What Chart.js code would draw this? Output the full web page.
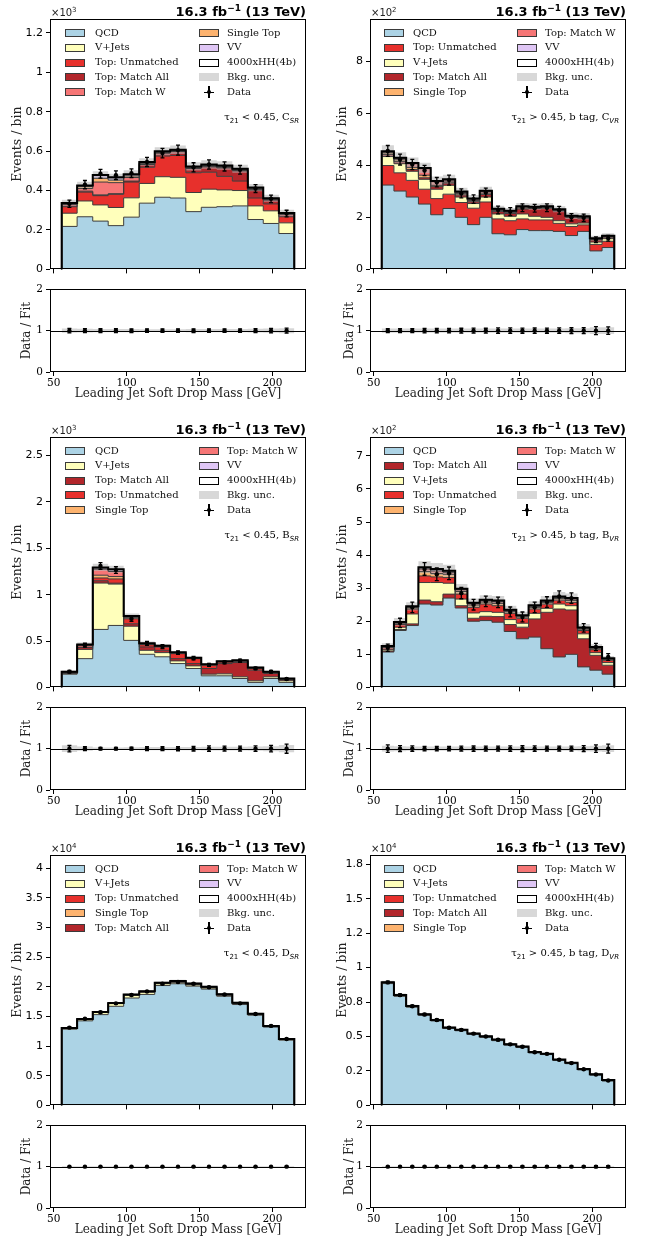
<!DOCTYPE html>
<html>
<head>
<meta charset="utf-8">
<title>Leading jet soft drop mass</title>
<script src="https://cdn.jsdelivr.net/npm/chart.js@4.4.1/dist/chart.umd.min.js"></script>
<style>
  html, body { margin: 0; padding: 0; background: #fff; }
  body { position: relative; width: 649px; height: 1245px; overflow: hidden; font-family: "DejaVu Serif", serif; }
  canvas { position: absolute; }
  .txt { position: absolute; white-space: nowrap; color: #000; }
  .lumi { font-family: "DejaVu Sans", sans-serif; font-weight: bold; font-size: 13px; line-height: 13px; }
  .lumi sup { font-size: 9px; vertical-align: 0; position: relative; top: -5px; }
  .mult { font-family: "DejaVu Sans", sans-serif; font-size: 10px; line-height: 10px; color: #222; }
  .mult sup { font-size: 7px; vertical-align: 0; position: relative; top: -4px; }
  .leg { font-size: 10px; line-height: 12px; color: #111; }
  .box { position: absolute; box-sizing: border-box; width: 20px; height: 8px; border: 1px solid #3a3a3a; }
  .note { font-size: 10px; line-height: 12px; }
  .note sub { font-family: "DejaVu Sans", sans-serif; font-size: 7px; vertical-align: 0; position: relative; top: 3px; }
  .bar { position: absolute; background: #000; }
</style>
</head>
<body>
<script>
// bin edges of the soft drop mass [GeV]
const leftEdges = [55.5, 66.1, 76.8, 87.4, 98.0, 108.7, 119.3, 129.9, 140.6, 151.2, 161.8, 172.5, 183.1, 193.7, 204.4, 215.0];
const rightEdges = [55.5, 63.9, 72.3, 80.7, 89.1, 97.5, 105.9, 114.3, 122.7, 131.1, 139.5, 147.8, 156.2, 164.6, 173.0, 181.4, 189.8, 198.2, 206.6, 215.0];
const massTicks = [50, 100, 150, 200];
const ratioTicks = [0, 1, 2];
const ratioTickLabels = ['0', '1', '2'];

// C_SR, x10^3 events
const cSR_qcd = [0.218, 0.267, 0.245, 0.222, 0.265, 0.336, 0.366, 0.362, 0.293, 0.315, 0.318, 0.322, 0.253, 0.233, 0.182];
const cSR_vjets = [0.067, 0.080, 0.082, 0.092, 0.098, 0.100, 0.104, 0.105, 0.097, 0.092, 0.085, 0.078, 0.069, 0.064, 0.054];
const cSR_topUnm = [0.033, 0.045, 0.047, 0.067, 0.080, 0.082, 0.105, 0.111, 0.100, 0.086, 0.069, 0.048, 0.040, 0.035, 0.031];
const cSR_topAll = [0.012, 0.005, 0.004, 0.003, 0.005, 0.014, 0.015, 0.020, 0.022, 0.027, 0.043, 0.052, 0.041, 0.020, 0.013];
const cSR_topW = [0.001, 0.013, 0.065, 0.056, 0.018, 0.004, 0.002, 0.002, 0.002, 0.003, 0.003, 0.002, 0.003, 0.002, 0.001];
const cSR_singleTop = [0.003, 0.010, 0.019, 0.013, 0.008, 0.004, 0.003, 0.003, 0.004, 0.004, 0.004, 0.003, 0.004, 0.003, 0.002];
const cSR_vv = [0.002, 0.005, 0.015, 0.012, 0.007, 0.003, 0.002, 0.002, 0.002, 0.003, 0.003, 0.003, 0.003, 0.003, 0.002];
const cSR_hh = [0.001, 0.001, 0.002, 0.002, 0.002, 0.002, 0.002, 0.002, 0.002, 0.002, 0.002, 0.002, 0.002, 0.001, 0.001];
const cSR_data = [0.333, 0.430, 0.485, 0.478, 0.488, 0.545, 0.590, 0.605, 0.518, 0.532, 0.522, 0.505, 0.410, 0.358, 0.283];
const cSR_err = [0.018, 0.021, 0.022, 0.022, 0.022, 0.023, 0.024, 0.025, 0.023, 0.023, 0.023, 0.022, 0.020, 0.019, 0.017];
const cSR_unc = [0.05, 0.045, 0.04, 0.04, 0.04, 0.035, 0.035, 0.035, 0.04, 0.04, 0.04, 0.04, 0.045, 0.05, 0.06];
const cSR_ratio = [1, 1, 1, 1, 1, 1, 1, 1, 1, 1, 1, 1, 1, 1, 1];
const cSR_ticks = [0, 0.2, 0.4, 0.6, 0.8, 1.0, 1.2];
const cSR_tickLabels = ['0', '0.2', '0.4', '0.6', '0.8', '1', '1.2'];

// C_VR, x10^2 events
const cVR_qcd = [3.24, 3.01, 2.78, 2.51, 2.10, 2.34, 2.00, 1.72, 2.00, 1.37, 1.33, 1.53, 1.49, 1.49, 1.46, 1.30, 1.46, 0.71, 0.84];
const cVR_topUnm = [0.75, 0.70, 0.64, 0.57, 0.62, 0.55, 0.57, 0.63, 0.59, 0.57, 0.54, 0.41, 0.41, 0.41, 0.31, 0.35, 0.25, 0.25, 0.24];
const cVR_vjets = [0.35, 0.35, 0.35, 0.38, 0.36, 0.34, 0.21, 0.18, 0.19, 0.19, 0.17, 0.19, 0.14, 0.10, 0.10, 0.10, 0.07, 0.09, 0.10];
const cVR_topAll = [0.08, 0.08, 0.07, 0.06, 0.10, 0.09, 0.08, 0.07, 0.10, 0.09, 0.11, 0.19, 0.30, 0.35, 0.38, 0.25, 0.19, 0.09, 0.06];
const cVR_singleTop = [0.06, 0.07, 0.08, 0.10, 0.05, 0.04, 0.05, 0.05, 0.05, 0.04, 0.03, 0.04, 0.03, 0.03, 0.02, 0.02, 0.03, 0.02, 0.02];
const cVR_topW = [0.03, 0.06, 0.14, 0.25, 0.14, 0.07, 0.05, 0.05, 0.06, 0.04, 0.04, 0.04, 0.02, 0.03, 0.02, 0.02, 0.02, 0.02, 0.01];
const cVR_vv = [0.02, 0.01, 0.02, 0.02, 0.02, 0.02, 0.02, 0.01, 0.02, 0.02, 0.02, 0.02, 0.01, 0.01, 0.01, 0.01, 0.01, 0.01, 0.01];
const cVR_hh = [0.01, 0.01, 0.01, 0.01, 0.01, 0.01, 0.01, 0.01, 0.01, 0.01, 0.01, 0.01, 0.01, 0.01, 0.01, 0.01, 0.01, 0.01, 0.01];
const cVR_data = [4.55, 4.22, 4.03, 3.80, 3.35, 3.43, 2.92, 2.70, 2.95, 2.28, 2.22, 2.37, 2.35, 2.37, 2.27, 2.00, 1.98, 1.14, 1.20];
const cVR_err = [0.21, 0.21, 0.20, 0.20, 0.18, 0.19, 0.17, 0.16, 0.17, 0.15, 0.15, 0.15, 0.15, 0.15, 0.15, 0.14, 0.14, 0.11, 0.11];
const cVR_unc = [0.05, 0.05, 0.05, 0.05, 0.05, 0.05, 0.05, 0.05, 0.05, 0.05, 0.05, 0.05, 0.05, 0.05, 0.05, 0.06, 0.06, 0.08, 0.08];
const cVR_ratio = [1, 1, 1, 1, 1, 1, 1, 1, 1, 1, 1, 1, 1, 1, 1, 1, 1, 1, 1];
const cVR_ticks = [0, 2, 4, 6, 8];
const cVR_tickLabels = ['0', '2', '4', '6', '8'];

// B_SR, x10^3 events
const bSR_qcd = [0.143, 0.310, 0.625, 0.668, 0.507, 0.357, 0.330, 0.257, 0.204, 0.125, 0.125, 0.096, 0.054, 0.096, 0.054];
const bSR_vjets = [0.005, 0.100, 0.500, 0.446, 0.153, 0.043, 0.045, 0.029, 0.028, 0.018, 0.021, 0.018, 0.017, 0.018, 0.018];
const bSR_topAll = [0.006, 0.020, 0.025, 0.010, 0.026, 0.036, 0.025, 0.024, 0.025, 0.061, 0.111, 0.154, 0.115, 0.036, 0.012];
const bSR_topUnm = [0.008, 0.020, 0.030, 0.046, 0.054, 0.024, 0.036, 0.054, 0.053, 0.036, 0.018, 0.014, 0.018, 0.014, 0.005];
const bSR_singleTop = [0.002, 0.004, 0.030, 0.025, 0.012, 0.006, 0.004, 0.004, 0.003, 0.003, 0.002, 0.004, 0.003, 0.002, 0.002];
const bSR_topW = [0.002, 0.004, 0.065, 0.055, 0.010, 0.005, 0.004, 0.005, 0.003, 0.003, 0.002, 0.002, 0.003, 0.002, 0.002];
const bSR_vv = [0.001, 0.002, 0.015, 0.020, 0.005, 0.003, 0.003, 0.003, 0.002, 0.002, 0.002, 0.002, 0.002, 0.001, 0.001];
const bSR_hh = [0.001, 0.002, 0.004, 0.004, 0.003, 0.002, 0.002, 0.002, 0.002, 0.002, 0.002, 0.002, 0.002, 0.001, 0.001];
const bSR_data = [0.170, 0.455, 1.310, 1.265, 0.740, 0.475, 0.440, 0.375, 0.315, 0.243, 0.270, 0.288, 0.205, 0.170, 0.090];
const bSR_err = [0.013, 0.021, 0.036, 0.036, 0.027, 0.022, 0.021, 0.019, 0.018, 0.016, 0.016, 0.017, 0.014, 0.013, 0.010];
const bSR_unc = [0.08, 0.05, 0.03, 0.03, 0.035, 0.04, 0.04, 0.04, 0.04, 0.045, 0.045, 0.045, 0.05, 0.06, 0.09];
const bSR_ratio = [1, 1, 1, 1, 1, 1, 1, 1, 1, 1, 1, 1, 1, 1, 1];
const bSR_ticks = [0, 0.5, 1.0, 1.5, 2.0, 2.5];
const bSR_tickLabels = ['0', '0.5', '1', '1.5', '2', '2.5'];

// B_VR, x10^2 events
const bVR_qcd = [1.07, 1.72, 1.87, 2.52, 2.49, 2.70, 2.40, 2.00, 2.02, 1.97, 1.69, 1.47, 1.52, 1.17, 0.92, 1.00, 0.62, 0.52, 0.40];
const bVR_topAll = [0.03, 0.03, 0.05, 0.12, 0.10, 0.12, 0.07, 0.09, 0.13, 0.17, 0.21, 0.35, 0.55, 1.10, 1.45, 1.34, 0.85, 0.45, 0.27];
const bVR_vjets = [0.04, 0.07, 0.30, 0.53, 0.58, 0.33, 0.20, 0.16, 0.14, 0.13, 0.15, 0.12, 0.17, 0.12, 0.15, 0.13, 0.15, 0.08, 0.08];
const bVR_topUnm = [0.06, 0.08, 0.15, 0.20, 0.17, 0.17, 0.15, 0.17, 0.23, 0.20, 0.19, 0.15, 0.13, 0.13, 0.12, 0.10, 0.10, 0.09, 0.07];
const bVR_singleTop = [0.02, 0.04, 0.04, 0.13, 0.10, 0.10, 0.08, 0.07, 0.06, 0.07, 0.05, 0.04, 0.05, 0.05, 0.05, 0.06, 0.04, 0.04, 0.03];
const bVR_topW = [0.01, 0.02, 0.02, 0.08, 0.08, 0.06, 0.05, 0.04, 0.04, 0.05, 0.04, 0.03, 0.03, 0.03, 0.03, 0.04, 0.03, 0.02, 0.01];
const bVR_vv = [0.01, 0.01, 0.01, 0.04, 0.05, 0.04, 0.02, 0.02, 0.02, 0.03, 0.01, 0.01, 0.02, 0.02, 0.02, 0.02, 0.01, 0.01, 0.01];
const bVR_hh = [0.01, 0.01, 0.01, 0.01, 0.01, 0.01, 0.01, 0.01, 0.01, 0.01, 0.01, 0.01, 0.01, 0.01, 0.01, 0.01, 0.01, 0.01, 0.01];
const bVR_data = [1.20, 1.95, 2.42, 3.58, 3.42, 3.45, 2.85, 2.50, 2.60, 2.57, 2.28, 2.13, 2.42, 2.58, 2.75, 2.70, 1.80, 1.22, 0.92];
const bVR_err = [0.11, 0.14, 0.16, 0.19, 0.19, 0.19, 0.17, 0.16, 0.16, 0.16, 0.15, 0.15, 0.16, 0.16, 0.17, 0.16, 0.13, 0.11, 0.10];
const bVR_unc = [0.07, 0.06, 0.05, 0.05, 0.05, 0.05, 0.05, 0.05, 0.05, 0.05, 0.05, 0.05, 0.05, 0.05, 0.05, 0.05, 0.06, 0.07, 0.08];
const bVR_ratio = [1, 1, 1, 1, 1, 1, 1, 1, 1, 1, 1, 1, 1, 1, 1, 1, 1, 1, 1];
const bVR_ticks = [0, 1, 2, 3, 4, 5, 6, 7];
const bVR_tickLabels = ['0', '1', '2', '3', '4', '5', '6', '7'];

// D_SR, x10^4 events
const dSR_qcd = [1.285, 1.425, 1.530, 1.670, 1.810, 1.870, 2.020, 2.050, 2.010, 1.960, 1.840, 1.700, 1.520, 1.320, 1.100];
const dSR_vjets = [0.012, 0.022, 0.035, 0.045, 0.045, 0.038, 0.030, 0.025, 0.022, 0.020, 0.018, 0.018, 0.015, 0.012, 0.010];
const dSR_topUnm = [0.002, 0.003, 0.004, 0.005, 0.006, 0.006, 0.006, 0.006, 0.006, 0.005, 0.005, 0.004, 0.004, 0.003, 0.002];
const dSR_singleTop = [0.001, 0.001, 0.001, 0.002, 0.002, 0.002, 0.002, 0.002, 0.002, 0.002, 0.002, 0.002, 0.001, 0.001, 0.001];
const dSR_topAll = [0.001, 0.001, 0.001, 0.001, 0.002, 0.003, 0.005, 0.008, 0.010, 0.007, 0.005, 0.003, 0.002, 0.001, 0.001];
const dSR_topW = [0.001, 0.001, 0.002, 0.002, 0.002, 0.002, 0.002, 0.002, 0.002, 0.002, 0.002, 0.001, 0.001, 0.001, 0.001];
const dSR_vv = [0.001, 0.001, 0.001, 0.001, 0.001, 0.001, 0.001, 0.001, 0.001, 0.001, 0.001, 0.001, 0.001, 0.001, 0.001];
const dSR_hh = [0.001, 0.001, 0.001, 0.001, 0.001, 0.001, 0.001, 0.001, 0.001, 0.001, 0.001, 0.001, 0.001, 0.001, 0.001];
const dSR_data = [1.31, 1.46, 1.57, 1.72, 1.86, 1.92, 2.05, 2.08, 2.05, 1.99, 1.87, 1.72, 1.54, 1.34, 1.12];
const dSR_err = [0.011, 0.012, 0.013, 0.013, 0.014, 0.014, 0.014, 0.014, 0.014, 0.014, 0.014, 0.013, 0.012, 0.012, 0.011];
const dSR_unc = [0.01, 0.01, 0.01, 0.01, 0.01, 0.01, 0.01, 0.01, 0.01, 0.01, 0.01, 0.01, 0.01, 0.01, 0.01];
const dSR_ratio = [1, 1, 1, 1, 1, 1, 1, 1, 1, 1, 1, 1, 1, 1, 1];
const dSR_ticks = [0, 0.5, 1.0, 1.5, 2.0, 2.5, 3.0, 3.5, 4.0];
const dSR_tickLabels = ['0', '0.5', '1', '1.5', '2', '2.5', '3', '3.5', '4'];

// D_VR, x10^4 events
const dVR_qcd = [0.884, 0.792, 0.713, 0.654, 0.613, 0.558, 0.542, 0.515, 0.494, 0.470, 0.438, 0.421, 0.381, 0.369, 0.327, 0.303, 0.258, 0.220, 0.178];
const dVR_vjets = [0.004, 0.004, 0.004, 0.003, 0.003, 0.003, 0.003, 0.003, 0.003, 0.003, 0.002, 0.002, 0.002, 0.002, 0.002, 0.002, 0.002, 0.002, 0.001];
const dVR_topUnm = [0.002, 0.002, 0.001, 0.001, 0.001, 0.001, 0.001, 0.001, 0.001, 0.001, 0.001, 0.001, 0.001, 0.001, 0.001, 0.001, 0.001, 0.001, 0.001];
const dVR_topAll = [0.001, 0.001, 0.001, 0.001, 0.001, 0.001, 0.001, 0.001, 0.001, 0.001, 0.001, 0.001, 0.001, 0.001, 0.001, 0.001, 0.001, 0.001, 0.001];
const dVR_singleTop = [0.001, 0.001, 0.001, 0.001, 0.001, 0.001, 0.001, 0.001, 0.001, 0.001, 0.001, 0.001, 0.001, 0.001, 0.001, 0.001, 0.001, 0.001, 0.001];
const dVR_topW = [0.0005, 0.0005, 0.0005, 0.0005, 0.0005, 0.0005, 0.0005, 0.0005, 0.0005, 0.0005, 0.0005, 0.0005, 0.0005, 0.0005, 0.0005, 0.0005, 0.0005, 0.0005, 0.0005];
const dVR_vv = [0.0005, 0.0005, 0.0005, 0.0005, 0.0005, 0.0005, 0.0005, 0.0005, 0.0005, 0.0005, 0.0005, 0.0005, 0.0005, 0.0005, 0.0005, 0.0005, 0.0005, 0.0005, 0.0005];
const dVR_hh = [0.0005, 0.0005, 0.0005, 0.0005, 0.0005, 0.0005, 0.0005, 0.0005, 0.0005, 0.0005, 0.0005, 0.0005, 0.0005, 0.0005, 0.0005, 0.0005, 0.0005, 0.0005, 0.0005];
const dVR_data = [0.893, 0.800, 0.720, 0.660, 0.620, 0.564, 0.548, 0.521, 0.500, 0.476, 0.443, 0.426, 0.386, 0.374, 0.331, 0.307, 0.262, 0.224, 0.181];
const dVR_err = [0.009, 0.009, 0.008, 0.008, 0.008, 0.008, 0.007, 0.007, 0.007, 0.007, 0.007, 0.007, 0.006, 0.006, 0.006, 0.006, 0.005, 0.005, 0.004];
const dVR_unc = [0.012, 0.012, 0.012, 0.012, 0.012, 0.012, 0.012, 0.012, 0.012, 0.012, 0.012, 0.012, 0.012, 0.012, 0.012, 0.012, 0.012, 0.012, 0.012];
const dVR_ratio = [1, 1, 1, 1, 1, 1, 1, 1, 1, 1, 1, 1, 1, 1, 1, 1, 1, 1, 1];
const dVR_ticks = [0, 0.25, 0.5, 0.75, 1.0, 1.25, 1.5, 1.75];
const dVR_tickLabels = ['0', '0.2', '0.5', '0.8', '1', '1.2', '1.5', '1.8'];

const fills = {
    qcd: '#acd3e5', vjets: '#ffffbb', topUnm: '#e7302c', topAll: '#b2262b',
    topW: '#f67676', singleTop: '#fdb36f', vv: '#dfc6f5', hh: '#ffffff'
};
const names = {
    qcd: 'QCD', vjets: 'V+Jets', topUnm: 'Top: Unmatched', topAll: 'Top: Match All',
    topW: 'Top: Match W', singleTop: 'Single Top', vv: 'VV', hh: '4000xHH(4b)'
};

// page geometry
const X_MIN = 47.5, X_MAX = 223;
const rowTops = [19, 437, 855];
const MAIN_H = 254, RATIO_OFF = 269, RATIO_H = 84;
const cols = [
    { x: 0, w: 325, left: 50, right: 306, yPad: 10.5, rPad: 19.8, leg: [15, 45, 149, 177] },
    { x: 325, w: 324, left: 370, right: 626, yPad: 10.5, rPad: 17.5, leg: [14, 43, 147, 175] }
];

const panels = [
    { row: 0, col: 0, edges: leftEdges, exp: '3', yMax: 1.27, yTicks: cSR_ticks, yLabels: cSR_tickLabels,
      note: 'τ<sub>21</sub> &lt; 0.45, C<sub><i>SR</i></sub>',
      data: cSR_data, err: cSR_err, unc: cSR_unc, ratio: cSR_ratio,
      stack: [['qcd', cSR_qcd], ['vjets', cSR_vjets], ['topUnm', cSR_topUnm], ['topAll', cSR_topAll],
              ['topW', cSR_topW], ['singleTop', cSR_singleTop], ['vv', cSR_vv], ['hh', cSR_hh]] },
    { row: 0, col: 1, edges: rightEdges, exp: '2', yMax: 9.62, yTicks: cVR_ticks, yLabels: cVR_tickLabels,
      note: 'τ<sub>21</sub> &gt; 0.45, b tag, C<sub><i>VR</i></sub>',
      data: cVR_data, err: cVR_err, unc: cVR_unc, ratio: cVR_ratio,
      stack: [['qcd', cVR_qcd], ['topUnm', cVR_topUnm], ['vjets', cVR_vjets], ['topAll', cVR_topAll],
              ['singleTop', cVR_singleTop], ['topW', cVR_topW], ['vv', cVR_vv], ['hh', cVR_hh]] },
    { row: 1, col: 0, edges: leftEdges, exp: '3', yMax: 2.70, yTicks: bSR_ticks, yLabels: bSR_tickLabels,
      note: 'τ<sub>21</sub> &lt; 0.45, B<sub><i>SR</i></sub>',
      data: bSR_data, err: bSR_err, unc: bSR_unc, ratio: bSR_ratio,
      stack: [['qcd', bSR_qcd], ['vjets', bSR_vjets], ['topAll', bSR_topAll], ['topUnm', bSR_topUnm],
              ['singleTop', bSR_singleTop], ['topW', bSR_topW], ['vv', bSR_vv], ['hh', bSR_hh]] },
    { row: 1, col: 1, edges: rightEdges, exp: '2', yMax: 7.57, yTicks: bVR_ticks, yLabels: bVR_tickLabels,
      note: 'τ<sub>21</sub> &gt; 0.45, b tag, B<sub><i>VR</i></sub>',
      data: bVR_data, err: bVR_err, unc: bVR_unc, ratio: bVR_ratio,
      stack: [['qcd', bVR_qcd], ['topAll', bVR_topAll], ['vjets', bVR_vjets], ['topUnm', bVR_topUnm],
              ['singleTop', bVR_singleTop], ['topW', bVR_topW], ['vv', bVR_vv], ['hh', bVR_hh]] },
    { row: 2, col: 0, edges: leftEdges, exp: '4', yMax: 4.22, yTicks: dSR_ticks, yLabels: dSR_tickLabels,
      note: 'τ<sub>21</sub> &lt; 0.45, D<sub><i>SR</i></sub>',
      data: dSR_data, err: dSR_err, unc: dSR_unc, ratio: dSR_ratio,
      stack: [['qcd', dSR_qcd], ['vjets', dSR_vjets], ['topUnm', dSR_topUnm], ['singleTop', dSR_singleTop],
              ['topAll', dSR_topAll], ['topW', dSR_topW], ['vv', dSR_vv], ['hh', dSR_hh]] },
    { row: 2, col: 1, edges: rightEdges, exp: '4', yMax: 1.817, yTicks: dVR_ticks, yLabels: dVR_tickLabels,
      note: 'τ<sub>21</sub> &gt; 0.45, b tag, D<sub><i>VR</i></sub>',
      data: dVR_data, err: dVR_err, unc: dVR_unc, ratio: dVR_ratio,
      stack: [['qcd', dVR_qcd], ['vjets', dVR_vjets], ['topUnm', dVR_topUnm], ['topAll', dVR_topAll],
              ['singleTop', dVR_singleTop], ['topW', dVR_topW], ['vv', dVR_vv], ['hh', dVR_hh]] }
];

Chart.defaults.font.family = 'DejaVu Sans';
Chart.defaults.color = '#000';

// step outline of a histogram; closed adds the drops to zero at both ends
function stepLine(edges, tops, closed) {
    const pts = tops.map((t, i) => ({ x: edges[i], y: t }));
    pts.push({ x: edges[edges.length - 1], y: tops[tops.length - 1] });
    if (closed) {
        pts.unshift({ x: edges[0], y: 0 });
        pts.push({ x: edges[edges.length - 1], y: 0 });
    }
    return pts;
}

const tickGrid = { display: true, drawOnChartArea: false, drawTicks: true, tickLength: 4, tickColor: '#000', color: '#000', lineWidth: 1 };

const framePlugin = {
    id: 'frame',
    afterDraw(chart) {
        const { ctx, chartArea: a } = chart;
        ctx.save();
        ctx.strokeStyle = '#000';
        ctx.lineWidth = 1;
        ctx.strokeRect(Math.round(a.left) + 0.5, Math.round(a.top) + 0.5,
            Math.round(a.right) - Math.round(a.left) - 1, Math.round(a.bottom) - Math.round(a.top) - 1);
        ctx.restore();
    }
};

function errorBars(centers, vals, errs) {
    return {
        id: 'errbars',
        afterDatasetsDraw(chart) {
            const { ctx, scales: { x, y } } = chart;
            ctx.save();
            ctx.strokeStyle = '#000';
            ctx.lineWidth = 1.3;
            centers.forEach((c, i) => {
                const px = x.getPixelForValue(c);
                const lo = y.getPixelForValue(vals[i] - errs[i]);
                const hi = y.getPixelForValue(vals[i] + errs[i]);
                ctx.beginPath();
                ctx.moveTo(px, lo); ctx.lineTo(px, hi);
                ctx.moveTo(px - 2, lo); ctx.lineTo(px + 2, lo);
                ctx.moveTo(px - 2, hi); ctx.lineTo(px + 2, hi);
                ctx.stroke();
            });
            ctx.restore();
        }
    };
}

function addCanvas(x, y, w, h) {
    const cv = document.createElement('canvas');
    cv.width = w; cv.height = h;
    cv.style.left = x + 'px';
    cv.style.top = y + 'px';
    document.body.appendChild(cv);
    return cv;
}

function addText(cls, html, style) {
    const d = document.createElement('div');
    d.className = 'txt ' + cls;
    d.innerHTML = html;
    Object.assign(d.style, style);
    document.body.appendChild(d);
    return d;
}

function drawMain(p) {
    const col = cols[p.col];
    const top = rowTops[p.row];
    const T = 10, B = 6;
    const cv = addCanvas(col.x, top - T, col.w, T + MAIN_H + B);
    const centers = p.edges.slice(0, -1).map((e, i) => (e + p.edges[i + 1]) / 2);

    let running = p.data.map(() => 0);
    const layers = p.stack.map(([key, vals]) => {
        running = running.map((r, i) => r + vals[i]);
        return { key, tops: running.slice() };
    });
    const total = running;

    const datasets = [
        { data: centers.map((c, i) => ({ x: c, y: p.data[i] })), showLine: false,
          pointRadius: 2.2, pointBackgroundColor: '#000', pointBorderWidth: 0 },
        { data: stepLine(p.edges, total.map((t, i) => t * (1 + p.unc[i]))), stepped: 'before',
          fill: '+1', backgroundColor: 'rgba(185,185,185,0.6)', borderColor: 'transparent', borderWidth: 0 },
        { data: stepLine(p.edges, total.map((t, i) => t * (1 - p.unc[i]))), stepped: 'before',
          fill: false, borderColor: 'transparent', borderWidth: 0 }
    ];
    layers.slice().reverse().forEach((l, k, arr) => {
        datasets.push({
            data: stepLine(p.edges, l.tops, true),
            stepped: 'before',
            fill: k === arr.length - 1 ? 'origin' : '+1',
            backgroundColor: fills[l.key],
            borderColor: l.key === 'hh' ? '#000' : '#3c3c3c',
            borderWidth: l.key === 'hh' ? 2 : 1
        });
    });

    new Chart(cv, {
        type: 'line',
        data: { datasets },
        options: {
            responsive: false, animation: false, events: [], devicePixelRatio: 1,
            layout: { padding: { top: T, right: col.x + col.w - col.right, left: 0, bottom: 0 } },
            elements: { point: { radius: 0 }, line: { tension: 0 } },
            plugins: { legend: { display: false }, tooltip: { enabled: false }, filler: { drawTime: 'beforeDatasetsDraw' } },
            scales: {
                x: {
                    type: 'linear', min: X_MIN, max: X_MAX,
                    afterBuildTicks: s => { s.ticks = massTicks.map(v => ({ value: v })); },
                    afterFit: s => { s.height = B; },
                    ticks: { callback: () => '', autoSkip: false, maxRotation: 0 },
                    grid: tickGrid, border: { display: false }
                },
                y: {
                    type: 'linear', min: 0, max: p.yMax,
                    afterBuildTicks: s => { s.ticks = p.yTicks.map(v => ({ value: v })); },
                    afterFit: s => { s.width = col.left - col.x; },
                    ticks: { callback: (v, i) => p.yLabels[i], autoSkip: false, padding: 3,
                             font: { family: 'DejaVu Sans', size: 11 }, color: '#000' },
                    grid: tickGrid, border: { display: false },
                    title: { display: true, text: 'Events / bin', color: '#222',
                             font: { family: 'DejaVu Serif', size: 12.5 }, padding: { top: col.yPad, bottom: 0 } }
                }
            }
        },
        plugins: [framePlugin, errorBars(centers, p.data, p.err)]
    });

    // lumi label, axis multiplier, region note
    addText('lumi', '16.3 fb<sup>−1</sup> (13 TeV)', { right: (649 - col.right) + 'px', top: (top - 14) + 'px' });
    addText('mult', '×10<sup>' + p.exp + '</sup>', { left: (col.left + 1) + 'px', top: (top - 11) + 'px' });
    addText('note', p.note, { right: (649 - col.right + 7) + 'px', top: (top + 92) + 'px' });

    // legend, filled column by column
    const items = p.stack.map(([key]) => key).concat(['unc', 'data']);
    items.forEach((key, i) => {
        const c = Math.floor(i / 5), r = i % 5;
        const cy = top + 14 + r * 14.8;
        const bx = col.left + col.leg[c * 2];
        const tx = col.left + col.leg[c * 2 + 1];
        if (key === 'data') {
            const mx = bx + 10;
            addText('bar', '', { left: (mx - 5) + 'px', top: (cy - 0.7) + 'px', width: '10px', height: '1.4px' });
            addText('bar', '', { left: (mx - 0.7) + 'px', top: (cy - 6) + 'px', width: '1.4px', height: '12px' });
            addText('bar', '', { left: (mx - 2.2) + 'px', top: (cy - 2.2) + 'px', width: '4.4px', height: '4.4px', borderRadius: '50%' });
        } else {
            const b = document.createElement('div');
            b.className = 'box';
            b.style.left = bx + 'px';
            b.style.top = (cy - 4) + 'px';
            if (key === 'unc') {
                b.style.background = '#d8d8d8';
                b.style.border = 'none';
            } else {
                b.style.background = fills[key];
                if (key === 'hh') b.style.borderColor = '#000';
            }
            document.body.appendChild(b);
        }
        const label = key === 'unc' ? 'Bkg. unc.' : key === 'data' ? 'Data' : names[key];
        addText('leg', label, { left: tx + 'px', top: (cy - 6.5) + 'px' });
    });
}

function drawRatio(p) {
    const col = cols[p.col];
    const top = rowTops[p.row] + RATIO_OFF;
    const T = 8, B = 34;
    const cv = addCanvas(col.x, top - T, col.w, T + RATIO_H + B);
    const centers = p.edges.slice(0, -1).map((e, i) => (e + p.edges[i + 1]) / 2);
    const rErr = p.err.map((e, i) => e / p.data[i]);

    const unityLine = {
        id: 'unity',
        beforeDatasetsDraw(chart) {
            const { ctx, chartArea: a, scales: { y } } = chart;
            const py = Math.round(y.getPixelForValue(1)) + 0.5;
            ctx.save();
            ctx.strokeStyle = '#000';
            ctx.lineWidth = 1;
            ctx.beginPath();
            ctx.moveTo(a.left, py); ctx.lineTo(a.right, py);
            ctx.stroke();
            ctx.restore();
        }
    };

    new Chart(cv, {
        type: 'line',
        data: {
            datasets: [
                { data: centers.map((c, i) => ({ x: c, y: p.ratio[i] })), showLine: false,
                  pointRadius: 2.2, pointBackgroundColor: '#000', pointBorderWidth: 0 },
                { data: stepLine(p.edges, p.unc.map(u => 1 + u)), stepped: 'before', fill: '+1',
                  backgroundColor: 'rgba(200,200,200,0.75)', borderColor: 'transparent', borderWidth: 0 },
                { data: stepLine(p.edges, p.unc.map(u => 1 - u)), stepped: 'before', fill: false,
                  borderColor: 'transparent', borderWidth: 0 }
            ]
        },
        options: {
            responsive: false, animation: false, events: [], devicePixelRatio: 1,
            layout: { padding: { top: T, right: col.x + col.w - col.right, left: 0, bottom: 0 } },
            elements: { point: { radius: 0 }, line: { tension: 0 } },
            plugins: { legend: { display: false }, tooltip: { enabled: false }, filler: { drawTime: 'beforeDatasetsDraw' } },
            scales: {
                x: {
                    type: 'linear', min: X_MIN, max: X_MAX,
                    afterBuildTicks: s => { s.ticks = massTicks.map(v => ({ value: v })); },
                    afterFit: s => { s.height = B; },
                    ticks: { callback: v => String(v), autoSkip: false, maxRotation: 0, padding: 1,
                             font: { family: 'DejaVu Serif', size: 10.5 }, color: '#000' },
                    grid: tickGrid, border: { display: false },
                    title: { display: true, text: 'Leading Jet Soft Drop Mass [GeV]', color: '#222',
                             font: { family: 'DejaVu Serif', size: 12 }, padding: { top: 0, bottom: 4.8 } }
                },
                y: {
                    type: 'linear', min: 0, max: 2,
                    afterBuildTicks: s => { s.ticks = ratioTicks.map(v => ({ value: v })); },
                    afterFit: s => { s.width = col.left - col.x; },
                    ticks: { callback: (v, i) => ratioTickLabels[i], autoSkip: false, padding: 3,
                             font: { family: 'DejaVu Serif', size: 10.5 }, color: '#000' },
                    grid: tickGrid, border: { display: false },
                    title: { display: true, text: 'Data / Fit', color: '#222',
                             font: { family: 'DejaVu Serif', size: 12 }, padding: { top: col.rPad, bottom: 0 } }
                }
            }
        },
        plugins: [framePlugin, unityLine, errorBars(centers, p.ratio, rErr)]
    });
}

panels.forEach(p => {
    drawMain(p);
    drawRatio(p);
});
</script>
</body>
</html>
